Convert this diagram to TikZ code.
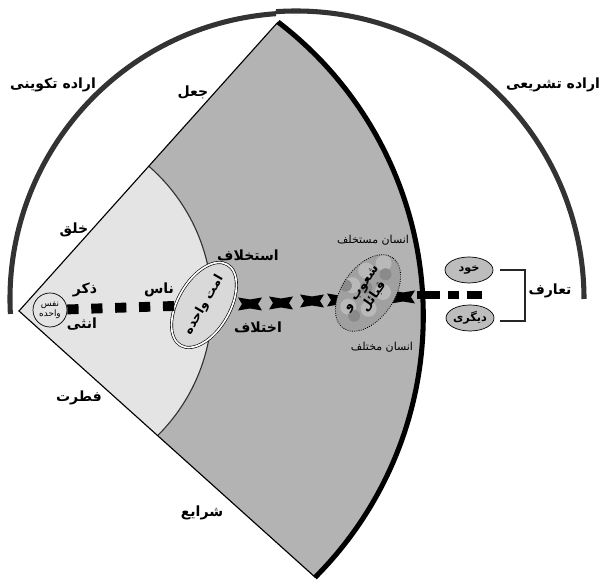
\documentclass[tikz,border=0pt]{standalone}
\usepackage{fontspec}
\usetikzlibrary{shapes.geometric}
\TeXXeTstate=1
\newfontfamily\fa[Script=Arabic]{DejaVu Sans}
\newcommand{\rl}[1]{\beginR #1\endR}
\definecolor{lightfill}{HTML}{E4E4E4}
\definecolor{darkfill}{HTML}{B3B3B3}
\definecolor{ovalfill}{HTML}{BDBDBD}
\definecolor{crowdfill}{HTML}{A0A0A0}
\definecolor{crowdlight}{HTML}{B9B9B9}
\definecolor{crowddark}{HTML}{8A8A8A}
\definecolor{arcgray}{HTML}{333333}

\begin{document}
\begin{tikzpicture}[x=0.025cm, y=0.025cm,
		every node/.append style={inner sep=0pt},
		lbl/.style={font=\fa\bfseries\fontsize{10}{12}\selectfont},
		note/.style={font=\fa\fontsize{7.8}{9}\selectfont},
		sqdash/.style={line width=7pt, dash pattern=on 8pt off 9pt},
		bowtie/.style={fill=black},
		oval/.style={ellipse, draw, line width=0.5pt, fill=ovalfill, minimum width=1.2cm, minimum height=0.65cm, font=\fa\bfseries\fontsize{8}{9}\selectfont},
		bracket/.style={line width=1.4pt, black!85}]
		\useasboundingbox (0,0) rectangle (602,583);
		% wedge
		\coordinate (apex) at (19,272);
		\coordinate (wtop) at (278,561);
		\coordinate (wbot) at (315.6,5.4);
		\fill [darkfill] (apex) -- (wtop) arc [start angle=52.6, end angle=-45, radius=370] -- cycle;
		\begin{scope}
		\clip (apex) -- (wtop) arc [start angle=52.6, end angle=-45, radius=370] -- cycle;
		\fill [lightfill] (28,278) circle [radius=184];
		\draw [line width=0.8pt, black!80] (28,278) circle [radius=184];
		\end{scope}
		\draw [line width=0.8pt] (wbot) -- (apex) -- (wtop);
		\draw [line width=3.6pt] (wtop) arc [start angle=52.6, end angle=-45, radius=370];
		% semicircle
		\draw [line width=3.6pt, arcgray] (296,284) ++(183:286) arc [start angle=183, end angle=94, radius=286];
		\draw [line width=3.6pt, arcgray] (296,284) ++(94:288) arc [start angle=94, end angle=0, radius=288];
		% bowties
		\foreach \x/\y in {250/279, 281/280, 312/282, 339/283, 403/286}
			\fill [bowtie] (\x-12,\y+6.5) -- (\x,\y+4.5) -- (\x+12,\y+6.5) -- (\x+8,\y) -- (\x+12,\y-6.5) -- (\x,\y-4.5) -- (\x-12,\y-6.5) -- (\x-8,\y) -- cycle;
		% ovals
		\node [circle, draw, line width=0.5pt, fill=lightfill, minimum size=0.85cm, align=center, font=\fa\fontsize{6.3}{7}\selectfont] (nafs) at (50,273) {\rl{نفس}\\\rl{واحده}};
		\node [ellipse, draw, line width=0.45pt, double, double distance=1.2pt, fill=lightfill!95!black, minimum width=2.2cm, minimum height=1.3cm, rotate=60, font=\fa\bfseries\fontsize{9}{10}\selectfont] (ummat) at (204,278) {\rl{امت واحده}};
		\node [ellipse, draw, densely dotted, line width=0.6pt, fill=crowdfill, minimum width=2.15cm, minimum height=1.3cm, rotate=55, align=center,
			path picture={
				\foreach \a/\b in {-26/6, -6/15, 14/12, 30/2, -16/-12, 6/-14}
					\fill [crowdlight] (path picture bounding box.center) ++(\a,\b) circle [radius=8];
				\foreach \a/\b in {-30/-4, 0/2, 22/-6, -10/20}
					\fill [crowddark] (path picture bounding box.center) ++(\a,\b) circle [radius=6];},
			font=\fa\bfseries\fontsize{9}{11}\selectfont] (shuub) at (368,290) {\rl{شعوب و}\\\rl{قبائل}};
		\node [oval] (khod) at (469,313) {\rl{خود}};
		\node [oval] (digari) at (470,265) {\rl{دیگری}};
		% dashes
		\draw [sqdash] (nafs) -- (ummat);
		\coordinate (crossL) at (417,288);
		\coordinate (crossR) at (482,288);
		\draw [line width=5.5pt, dash pattern=on 16pt off 5.7pt on 8.5pt off 5.7pt on 10pt off 5pt] (crossL) -- (crossR);
		% bracket
		\coordinate (brtop) at (500,313);
		\coordinate (brbot) at (500,262);
		\draw [bracket] (brtop) -- ++(25,0) |- (brbot);
		\node [lbl] (taarof) at (550,292) {\rl{تعارف}};
		% labels
		\node [lbl] (takvini) at (53,498) {\rl{اراده تکوینی}};
		\node [lbl] (tashrii) at (553,498) {\rl{اراده تشریعی}};
		\node [lbl] (jal) at (193,491) {\rl{جعل}};
		\node [lbl] (khalq) at (74,353) {\rl{خلق}};
		\node [lbl] (zekr) at (85,293) {\rl{ذکر}};
		\node [lbl] (onsa) at (82,259) {\rl{انثی}};
		\node [lbl] (nas) at (159,293) {\rl{ناس}};
		\node [lbl] (estekhlaf) at (248,328) {\rl{استخلاف}};
		\node [lbl] (ekhtelaf) at (258,256) {\rl{اختلاف}};
		\node [note] (mostakhlaf) at (373,343) {\rl{انسان مستخلف}};
		\node [note] (mokhtalef) at (382,236) {\rl{انسان مختلف}};
		\node [lbl] (fetrat) at (79,185) {\rl{فطرت}};
		\node [lbl] (sharaye) at (202,70) {\rl{شرایع}};
\end{tikzpicture}
\end{document}
